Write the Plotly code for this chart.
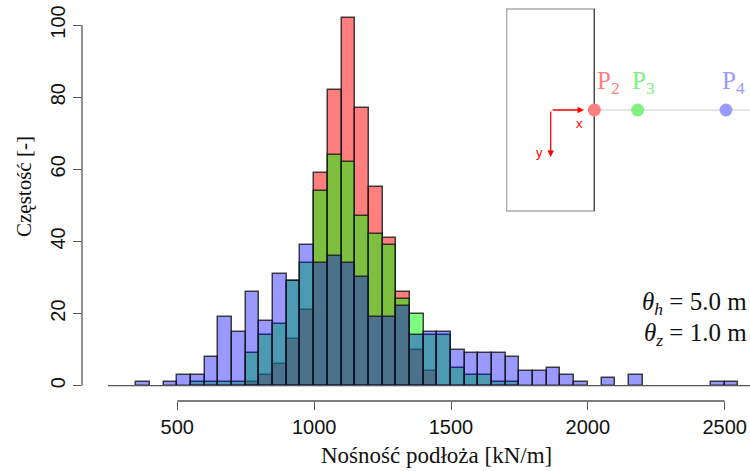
import plotly.graph_objects as go

# ---- data (bin width 50 kN/m) ----
bin_left = list(range(350, 2550, 50))  # 350 ... 2500
p2_counts = {750: 1, 800: 3, 850: 6, 900: 13, 950: 21, 1000: 59, 1050: 82, 1100: 102,
             1150: 77, 1200: 55, 1250: 41, 1300: 26, 1350: 10, 1400: 4}
p3_counts = {550: 1, 600: 1, 650: 1, 700: 1, 750: 9, 800: 14, 850: 17, 900: 29, 950: 34,
             1000: 54, 1050: 64, 1100: 62, 1150: 47, 1200: 42, 1250: 39, 1300: 24, 1350: 20,
             1400: 14, 1450: 14, 1500: 5, 1550: 3, 1600: 3, 1650: 1, 1700: 1}
p4_counts = {350: 1, 450: 1, 500: 3, 550: 3, 600: 8, 650: 19, 700: 15, 750: 26, 800: 18,
             850: 31, 900: 29, 950: 39, 1000: 34, 1050: 36, 1100: 34, 1150: 30, 1200: 19,
             1250: 19, 1300: 22, 1350: 14, 1400: 15, 1450: 15, 1500: 10, 1550: 9, 1600: 9,
             1650: 9, 1700: 8, 1750: 4, 1800: 4, 1850: 5, 1900: 3, 1950: 1, 2050: 2,
             2150: 3, 2450: 1, 2500: 1}
BIN_W = 50
x_ticks = [500, 1000, 1500, 2000, 2500]
y_ticks = [0, 20, 40, 60, 80, 100]

series = [
    ("P2", p2_counts, "rgba(255,0,0,0.5)"),
    ("P3", p3_counts, "rgba(0,255,0,0.5)"),
    ("P4", p4_counts, "rgba(0,0,255,0.4)"),
]

W, H = 750, 471
L, R, T, B = 82, 0, 0, 70
PW, PH = W - L - R, H - T - B


def px(x):
    return (x - L) / PW


def py(y):
    return (H - B - y) / PH


fig = go.Figure()
for name, cnt, col in series:
    xs = [b + BIN_W / 2 for b in bin_left if cnt.get(b, 0) > 0]
    ys = [cnt[b] for b in bin_left if cnt.get(b, 0) > 0]
    fig.add_trace(go.Bar(x=xs, y=ys, width=BIN_W, name=name,
                         marker=dict(color=col, line=dict(color="rgba(20,20,20,0.8)", width=1.5)),
                         showlegend=False))

serif = "Liberation Serif, Times New Roman, serif"
sans = "Liberation Sans, Arial, sans-serif"

shapes = []
# y axis line (0..100)
shapes.append(dict(type="line", xref="paper", yref="y", x0=0, x1=0, y0=y_ticks[0], y1=y_ticks[-1],
                   line=dict(color="#555", width=1.3)))
# x axis line (500..2500)
shapes.append(dict(type="line", xref="x", yref="paper", x0=x_ticks[0], x1=x_ticks[-1], y0=0, y1=0,
                   line=dict(color="#555", width=1.3)))
# baseline
shapes.append(dict(type="line", xref="paper", yref="y", x0=px(108), x1=1, y0=0, y1=0,
                   line=dict(color="#555", width=1.3)))
# inset rectangle
shapes.append(dict(type="rect", xref="paper", yref="paper", x0=px(506.7), x1=px(594.3),
                   y0=py(211), y1=py(9), line=dict(color="#aaa", width=1.3)))
shapes.append(dict(type="line", xref="paper", yref="paper", x0=px(594.3), x1=px(594.3),
                   y0=py(211), y1=py(9), line=dict(color="#444", width=1.3)))
# horizontal line through points
shapes.append(dict(type="line", xref="paper", yref="paper", x0=px(594.3), x1=1,
                   y0=py(110), y1=py(110), line=dict(color="#ccc", width=1.2)))
# points
for cx, col in [(594.3, "#ff7f7f"), (637.7, "#80f080"), (726, "#9a9aff")]:
    r = 6.5
    shapes.append(dict(type="circle", xref="paper", yref="paper", x0=px(cx - r), x1=px(cx + r),
                       y0=py(110 + r), y1=py(110 - r), fillcolor=col, line=dict(width=0)))

annotations = []
for cx, lab, col in [(608, "P<sub>2</sub>", "#ff7f7f"), (643, "P<sub>3</sub>", "#80f080"),
                     (733, "P<sub>4</sub>", "#9a9aff")]:
    annotations.append(dict(xref="paper", yref="paper", x=px(cx), y=py(82), text=lab,
                            showarrow=False, font=dict(family=serif, size=25, color=col),
                            xanchor="center", yanchor="middle"))
# coordinate arrows
annotations.append(dict(xref="paper", yref="paper", x=px(584), y=py(110), ax=-33, ay=0, text="",
                        showarrow=True, arrowhead=2, arrowsize=1, arrowwidth=1.3, arrowcolor="red"))
annotations.append(dict(xref="paper", yref="paper", x=px(550.7), y=py(157), ax=0, ay=-47, text="",
                        showarrow=True, arrowhead=2, arrowsize=1, arrowwidth=1.3, arrowcolor="red"))
annotations.append(dict(xref="paper", yref="paper", x=px(579), y=py(123), text="x", showarrow=False,
                        xanchor="center", yanchor="middle",
                        font=dict(family=sans, size=13, color="red")))
annotations.append(dict(xref="paper", yref="paper", x=px(539), y=py(152), text="y", showarrow=False,
                        xanchor="center", yanchor="middle",
                        font=dict(family=sans, size=13, color="red")))
# theta texts
annotations.append(dict(xref="paper", yref="paper", x=px(749), y=py(303), xanchor="right",
                        yanchor="middle", showarrow=False,
                        text="<i>θ</i><sub><i>h</i></sub> = 5.0 m",
                        font=dict(family=serif, size=25, color="#111")))
annotations.append(dict(xref="paper", yref="paper", x=px(749), y=py(334), xanchor="right",
                        yanchor="middle", showarrow=False,
                        text="<i>θ</i><sub><i>z</i></sub> = 1.0 m",
                        font=dict(family=serif, size=25, color="#111")))
# axis titles
annotations.append(dict(xref="paper", yref="paper", x=px(436), y=py(455), showarrow=False,
                        text="Nośność podłoża [kN/m]", xanchor="center", yanchor="middle",
                        font=dict(family=serif, size=23, color="#111")))
annotations.append(dict(xref="paper", yref="paper", x=px(24), y=py(187), showarrow=False,
                        text="Częstość [-]", textangle=-90, xanchor="center", yanchor="middle",
                        font=dict(family=serif, size=21, color="#111")))

xmin = 500 + (L - 177.3) / 0.2737
xmax = 500 + (W - R - 177.3) / 0.2737
ymin = (385.7 - (H - B)) / 3.607
ymax = 385.7 / 3.607

fig.update_layout(
    width=W, height=H, margin=dict(l=L, r=R, t=T, b=B),
    paper_bgcolor="white", plot_bgcolor="white",
    barmode="overlay", bargap=0,
    shapes=shapes, annotations=annotations,
    xaxis=dict(range=[xmin, xmax], tickvals=x_ticks, showgrid=False, zeroline=False, showline=False,
               ticks="outside", ticklen=8, tickcolor="#555", tickwidth=1.3,
               tickfont=dict(family=sans, size=20, color="#111")),
    yaxis=dict(range=[ymin, ymax], tickvals=y_ticks, showgrid=False, zeroline=False, showline=False,
               ticks="outside", ticklen=8, tickcolor="#555", tickwidth=1.3, tickangle=-90,
               tickfont=dict(family=sans, size=20, color="#111")),
)

fig.write_html("out.html")
